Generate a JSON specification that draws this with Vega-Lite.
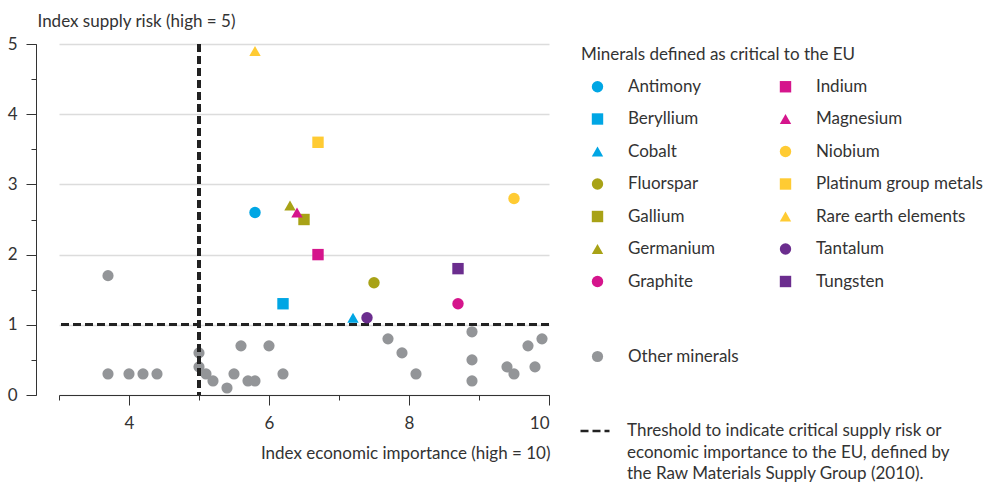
{
  "$schema": "https://vega.github.io/schema/vega-lite/v6.json",
  "width": 490,
  "height": 351,
  "autosize": "none",
  "padding": {"left": 59, "top": 44, "right": 442, "bottom": 89},
  "config": {
    "font": "Lato",
    "view": {"stroke": null},
    "axis": {"labelFont": "Lato", "titleFont": "Lato", "labelColor": "#333", "titleColor": "#333", "domainColor": "#333", "tickColor": "#333", "labelFontSize": 17, "titleFontSize": 17, "titleFontWeight": "normal"},
    "legend": {"labelFont": "Lato", "titleFont": "Lato", "labelColor": "#333", "titleColor": "#333", "labelFontSize": 17, "titleFontSize": 17, "titleFontWeight": "normal", "padding": 0}
  },
  "data": {
    "values": [
      {"mineral": "Other", "group": "other", "x": 3.7, "y": 1.7},
      {"mineral": "Other", "group": "other", "x": 3.7, "y": 0.3},
      {"mineral": "Other", "group": "other", "x": 4.0, "y": 0.3},
      {"mineral": "Other", "group": "other", "x": 4.2, "y": 0.3},
      {"mineral": "Other", "group": "other", "x": 4.4, "y": 0.3},
      {"mineral": "Other", "group": "other", "x": 5.0, "y": 0.6},
      {"mineral": "Other", "group": "other", "x": 5.0, "y": 0.4},
      {"mineral": "Other", "group": "other", "x": 5.1, "y": 0.3},
      {"mineral": "Other", "group": "other", "x": 5.2, "y": 0.2},
      {"mineral": "Other", "group": "other", "x": 5.4, "y": 0.1},
      {"mineral": "Other", "group": "other", "x": 5.5, "y": 0.3},
      {"mineral": "Other", "group": "other", "x": 5.6, "y": 0.7},
      {"mineral": "Other", "group": "other", "x": 5.7, "y": 0.2},
      {"mineral": "Other", "group": "other", "x": 5.8, "y": 0.2},
      {"mineral": "Other", "group": "other", "x": 6.0, "y": 0.7},
      {"mineral": "Other", "group": "other", "x": 6.2, "y": 0.3},
      {"mineral": "Other", "group": "other", "x": 7.7, "y": 0.8},
      {"mineral": "Other", "group": "other", "x": 7.9, "y": 0.6},
      {"mineral": "Other", "group": "other", "x": 8.1, "y": 0.3},
      {"mineral": "Other", "group": "other", "x": 8.9, "y": 0.9},
      {"mineral": "Other", "group": "other", "x": 8.9, "y": 0.5},
      {"mineral": "Other", "group": "other", "x": 8.9, "y": 0.2},
      {"mineral": "Other", "group": "other", "x": 9.4, "y": 0.4},
      {"mineral": "Other", "group": "other", "x": 9.5, "y": 0.3},
      {"mineral": "Other", "group": "other", "x": 9.7, "y": 0.7},
      {"mineral": "Other", "group": "other", "x": 9.8, "y": 0.4},
      {"mineral": "Other", "group": "other", "x": 9.9, "y": 0.8},
      {"mineral": "Antimony", "group": "critical", "x": 5.8, "y": 2.6},
      {"mineral": "Beryllium", "group": "critical", "x": 6.2, "y": 1.3},
      {"mineral": "Cobalt", "group": "critical", "x": 7.2, "y": 1.1},
      {"mineral": "Fluorspar", "group": "critical", "x": 7.5, "y": 1.6},
      {"mineral": "Gallium", "group": "critical", "x": 6.5, "y": 2.5},
      {"mineral": "Germanium", "group": "critical", "x": 6.3, "y": 2.7},
      {"mineral": "Graphite", "group": "critical", "x": 8.7, "y": 1.3},
      {"mineral": "Indium", "group": "critical", "x": 6.7, "y": 2.0},
      {"mineral": "Magnesium", "group": "critical", "x": 6.4, "y": 2.6},
      {"mineral": "Niobium", "group": "critical", "x": 9.5, "y": 2.8},
      {"mineral": "Platinum group metals", "group": "critical", "x": 6.7, "y": 3.6},
      {"mineral": "Rare earth elements", "group": "critical", "x": 5.8, "y": 4.9},
      {"mineral": "Tantalum", "group": "critical", "x": 7.4, "y": 1.1},
      {"mineral": "Tungsten", "group": "critical", "x": 8.7, "y": 1.8}
    ]
  },
  "layer": [
    {
      "transform": [{"filter": "datum.group === 'other'"}],
      "mark": {"type": "point", "filled": true, "opacity": 1, "size": 125, "shape": "circle"},
      "encoding": {
        "x": {"field": "x", "type": "quantitative", "scale": {"domain": [3, 10], "nice": false, "zero": false},
          "axis": {"orient": "bottom", "values": [3, 4, 5, 6, 7, 8, 9, 10], "tickSize": 5, "labels": false, "grid": false, "domain": true, "title": null}},
        "y": {"field": "y", "type": "quantitative", "scale": {"domain": [0, 5], "nice": false},
          "axis": {"orient": "left", "offset": 23, "values": [0, 0.5, 1, 1.5, 2, 2.5, 3, 3.5, 4, 4.5, 5], "tickSize": 5, "labels": false, "grid": false, "domain": true, "title": null}},
        "fill": {"datum": "Other minerals", "type": "nominal", "scale": {"range": ["#939598"]},
          "legend": {"orient": "none", "legendX": 522, "legendY": 304, "title": null, "symbolSize": 125, "symbolOffset": 8, "labelOffset": 22, "labelLimit": 300}}
      }
    },
    {
      "mark": {"type": "rule", "strokeWidth": 2.5, "color": "#222"},
      "encoding": {
        "x": {"datum": 5, "type": "quantitative", "axis": null},
        "strokeDash": {"datum": "Threshold", "type": "nominal", "scale": {"range": [[8, 4]]},
          "legend": {"orient": "none", "legendX": 520, "legendY": 371, "title": null, "symbolType": "stroke", "symbolSize": 841, "symbolStrokeWidth": 2.5, "symbolStrokeColor": "#222", "labelOffset": 16, "labelLimit": 400,
            "labelExpr": "['Threshold to indicate critical supply risk or', 'economic importance to the EU, defined by', 'the Raw Materials Supply Group (2010).']",
            "encode": {"labels": {"update": {"lineHeight": {"value": 21.7}}}}}}
      }
    },
    {
      "mark": {"type": "rule", "strokeWidth": 2.5, "color": "#222"},
      "encoding": {
        "y": {"datum": 1, "type": "quantitative", "axis": null},
        "strokeDash": {"datum": "Threshold", "type": "nominal"}
      }
    },
    {
      "transform": [{"filter": "datum.group === 'critical'"}],
      "mark": {"type": "point", "filled": true, "opacity": 1, "size": 130},
      "encoding": {
        "x": {"field": "x", "type": "quantitative",
          "axis": {"orient": "bottom", "values": [4, 6, 8, 10], "tickSize": 10, "labelPadding": 10, "domain": false, "grid": false, "title": "Index economic importance (high = 10)", "titleAnchor": "end", "titleAlign": "right", "titleX": 491, "titleY": 58, "titleBaseline": "middle"}},
        "y": {"field": "y", "type": "quantitative",
          "axis": {"orient": "left", "offset": 23, "values": [0, 1, 2, 3, 4, 5], "tickSize": 10, "labelPadding": 9, "domain": false, "grid": true, "gridColor": "#dcdcdc", "gridWidth": 1.5, "title": "Index supply risk (high = 5)", "titleAngle": 0, "titleAlign": "left", "titleBaseline": "middle", "titleX": 1, "titleY": -23}},
        "color": {"field": "mineral", "type": "nominal",
          "scale": {
            "domain": ["Antimony", "Beryllium", "Cobalt", "Fluorspar", "Gallium", "Germanium", "Graphite", "Indium", "Magnesium", "Niobium", "Platinum group metals", "Rare earth elements", "Tantalum", "Tungsten"],
            "range": ["#00a6e4", "#00a6e4", "#00a6e4", "#a8a216", "#a8a216", "#a8a216", "#d5158c", "#d5158c", "#d5158c", "#ffcb33", "#ffcb33", "#ffcb33", "#6b2d8e", "#6b2d8e"]},
          "legend": {"orient": "none", "legendX": 522, "legendY": 3, "title": "Minerals defined as critical to the EU", "titleLimit": 400, "titlePadding": 14, "columns": 2, "columnPadding": 54, "rowPadding": 14.5, "symbolSize": 130, "symbolOffset": 8, "labelOffset": 22, "labelLimit": 300}},
        "shape": {"field": "mineral", "type": "nominal",
          "scale": {
            "domain": ["Antimony", "Beryllium", "Cobalt", "Fluorspar", "Gallium", "Germanium", "Graphite", "Indium", "Magnesium", "Niobium", "Platinum group metals", "Rare earth elements", "Tantalum", "Tungsten"],
            "range": ["circle", "square", "triangle-up", "circle", "square", "triangle-up", "circle", "square", "triangle-up", "circle", "square", "triangle-up", "circle", "square"]}}
      }
    }
  ],
  "resolve": {"axis": {"x": "independent", "y": "independent"}}
}
